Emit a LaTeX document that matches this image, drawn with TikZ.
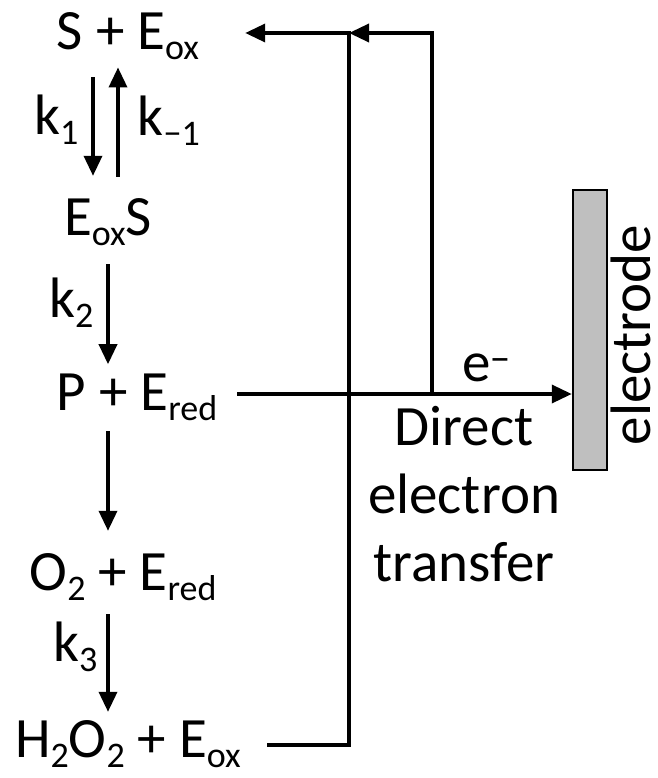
\documentclass[tikz,border=0pt]{standalone}
\usepackage{fontspec}
\setmainfont{Carlito}
\usepackage{xcolor}
\usetikzlibrary{arrows.meta, positioning}
\definecolor{electrodegray}{HTML}{BFBFBF}
\newcommand{\chemsub}[1]{\raisebox{-10pt}{\fontsize{36}{36}\selectfont#1}}

\begin{document}
\begin{tikzpicture}[
        x=1pt, y=-1pt,
        species/.style={inner sep=0pt, anchor=base, font=\fontsize{57}{68}\selectfont},
        rate/.style={inner sep=0pt, font=\fontsize{57}{68}\selectfont},
        link/.style={-{Triangle[length=20pt, width=18pt]}, line width=3.5pt},
        plate/.style={rectangle, draw, line width=2.5pt, fill=electrodegray, minimum width=34pt, minimum height=280pt, inner sep=0pt}
    ]
    \useasboundingbox (0,0) rectangle (657,778);

    % Reaction column
    \node[species] (sEox) at (128,50) {S + E\chemsub{ox}};
    \node[species] (eoxS) at (108,235) {E\chemsub{ox}S};
    \node[species] (pEred) at (137,410) {P + E\chemsub{red}};
    \node[species] (o2Ered) at (123,590) {O\chemsub{2} + E\chemsub{red}};
    \node[species] (h2o2Eox) at (128,757) {H\chemsub{2}O\chemsub{2} + E\chemsub{ox}};

    % Arrow columns
    \coordinate (down1) at (93,0);
    \coordinate (up1) at (118,0);
    \coordinate (axis) at (108,0);

    % Reaction steps
    \draw[link, shorten <=17pt, shorten >=22pt] (sEox.south -| down1) -- node[rate, pos=0.43, left=13pt] {k\chemsub{1}} (eoxS.north -| down1);
    \draw[link, shorten <=21pt, shorten >=7pt] (eoxS.north -| up1) -- node[rate, pos=0.56, right=18pt] {k\chemsub{−1}} (sEox.south -| up1);
    \draw[link, shorten <=19pt, shorten >=9pt] (eoxS.south -| axis) -- node[rate, pos=0.45, left=13pt] {k\chemsub{2}} (pEred.north -| axis);
    \draw[link, shorten <=11pt, shorten >=22pt] (pEred.south -| axis) -- (o2Ered.north -| axis);
    \draw[link, shorten <=14pt, shorten >=8pt] (o2Ered.south -| axis) -- node[rate, pos=0.39, left=9pt] {k\chemsub{3}} (h2o2Eox.north -| axis);

    % Electrode
    \node[plate] (electrode) at (590,330) {};
    \node[rate, rotate=90] (electrodeLabel) at (631,335) {electrode};

    % Electron transfer
    \coordinate (loop) at (349,33);
    \coordinate (branch) at (432,394);
    \draw[link, shorten <=20pt] (pEred.east |- branch) -- node[rate, pos=0.76, above=10pt] {e\textsuperscript{−}} (electrode.west |- branch);
    \draw[link] (branch) |- (loop);
    \draw[link, shorten <=26pt, shorten >=46pt] (h2o2Eox.east |- 0,745) -| (loop) -- (sEox.east |- loop);
    \node[rate, align=center, anchor=north] (det) at (464,406) {Direct\\electron\\transfer};

\end{tikzpicture}
\end{document}
